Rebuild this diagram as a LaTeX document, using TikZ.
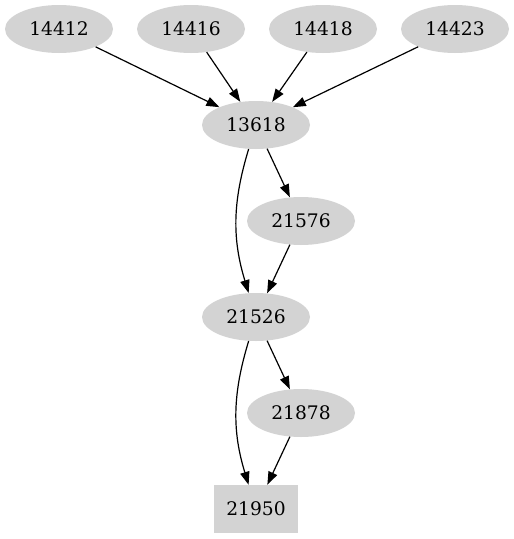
\documentclass[tikz,border=0pt]{standalone}
\usepackage{fontspec}
\setmainfont{DejaVu Serif}
\usepackage{xcolor}
\usetikzlibrary{arrows.meta, shapes.geometric, math}
\definecolor{mygray}{RGB}{211,211,211}

\begin{document}
\begin{tikzpicture}[x=1pt,y=1pt,
  oval/.style={ellipse, fill=mygray, minimum width=108pt, minimum height=48pt, inner sep=0pt, font=\fontsize{18.67}{22}\selectfont},
  box/.style={rectangle, fill=mygray, minimum width=84pt, minimum height=48pt, inner sep=0pt, font=\fontsize{18.67}{22}\selectfont},
  edge/.style={-{Triangle[length=13pt,width=9.3pt]}, line width=1.2pt}]
\tikzmath{
\ytop=-29;
\dy=96;
}
\useasboundingbox (0,0) rectangle (514,-539);

\node[oval] (n14412) at (59,\ytop) {14412};
\node[oval] (n14416) at (191,\ytop) {14416};
\node[oval] (n14418) at (323,\ytop) {14418};
\node[oval] (n14423) at (455,\ytop) {14423};

\node[oval] (n13618) at (256,\ytop-\dy) {13618};
\node[oval] (n21576) at (301,\ytop-2*\dy) {21576};
\node[oval] (n21526) at (256,\ytop-3*\dy) {21526};
\node[oval] (n21878) at (301,\ytop-4*\dy) {21878};
\node[box] (n21950) at (256,\ytop-5*\dy) {21950};

\draw[edge] (n14412) -- (n13618);
\draw[edge] (n14416) -- (n13618);
\draw[edge] (n14418) -- (n13618);
\draw[edge] (n14423) -- (n13618);

\draw[edge] (n13618) to[out=253,in=107] (n21526);
\draw[edge] (n13618) -- (n21576);
\draw[edge] (n21576) -- (n21526);

\draw[edge] (n21526) to[out=253,in=107] (n21950);
\draw[edge] (n21526) -- (n21878);
\draw[edge] (n21878) -- (n21950);
\end{tikzpicture}
\end{document}
